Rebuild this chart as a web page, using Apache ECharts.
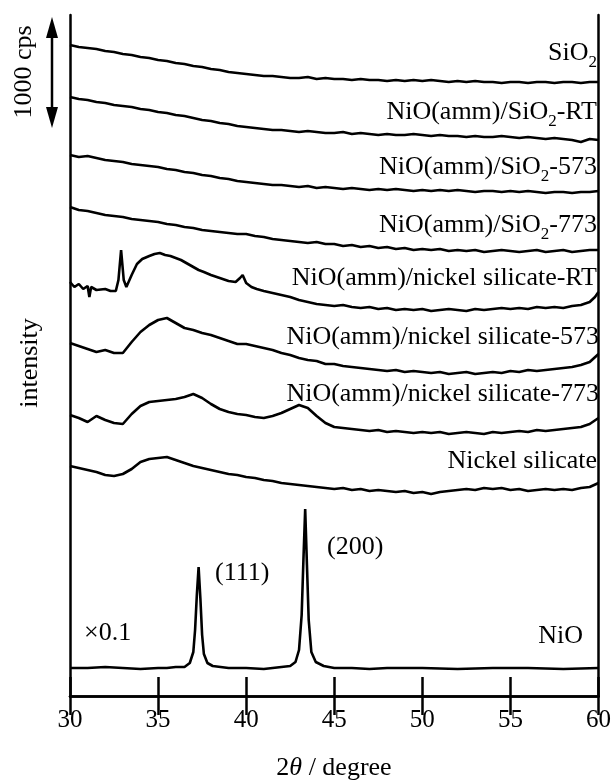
<!DOCTYPE html>
<html><head><meta charset="utf-8">
<script src="https://cdn.jsdelivr.net/npm/echarts@6/dist/echarts.min.js"></script>
<style>html,body{margin:0;padding:0;background:#fff}#c{width:614px;height:783px}</style>
</head><body><div id="c"></div>
<script>
// 2θ sampling grid (degree)
const twoTheta = [30,30.5,31,31.5,32,32.5,33,33.5,34,34.5,35,35.5,36,36.5,37,37.5,38,38.5,39,39.5,40,40.5,41,41.5,42,42.5,43,43.5,44,44.5,45,45.5,46,46.5,47,47.5,48,48.5,49,49.5,50,50.5,51,51.5,52,52.5,53,53.5,54,54.5,55,55.5,56,56.5,57,57.5,58,58.5,59,59.5,60];
// offset-stacked intensities (cps)
const siO2 = [5859,5841,5832,5823,5805,5796,5778,5769,5751,5742,5724,5715,5697,5688,5670,5661,5643,5634,5616,5607,5598,5589,5580,5580,5571,5562,5562,5571,5553,5562,5553,5553,5544,5553,5544,5544,5535,5544,5535,5544,5535,5544,5535,5526,5535,5526,5535,5526,5526,5517,5526,5526,5517,5526,5526,5517,5526,5526,5517,5526,5526];
const niOSiO2RT = [5391,5373,5364,5346,5337,5319,5310,5301,5283,5274,5256,5247,5229,5220,5202,5184,5175,5157,5148,5130,5121,5112,5103,5094,5094,5085,5076,5085,5076,5067,5067,5076,5058,5067,5058,5049,5058,5049,5049,5058,5049,5040,5049,5040,5040,5031,5040,5031,5031,5040,5031,5022,5031,5022,5013,5022,5013,5004,4986,5013,5004];
const niOSiO2573 = [4869,4851,4860,4842,4824,4815,4806,4788,4779,4770,4761,4743,4734,4716,4707,4689,4680,4662,4653,4635,4626,4617,4608,4599,4599,4590,4581,4590,4572,4581,4572,4563,4572,4563,4554,4563,4554,4563,4554,4545,4554,4545,4554,4545,4554,4545,4536,4545,4545,4536,4545,4536,4545,4536,4527,4536,4536,4527,4536,4536,4545];
const niOSiO2773 = [4401,4374,4365,4347,4329,4320,4311,4293,4284,4275,4266,4248,4239,4221,4212,4194,4185,4176,4167,4158,4158,4140,4131,4113,4104,4095,4086,4077,4086,4068,4068,4050,4059,4041,4050,4032,4041,4023,4032,4014,4023,4014,4023,4005,4014,4005,4014,3996,4005,4014,4005,3996,4005,4014,3996,4005,4014,3996,4005,4014,4014];
const niOSilicateRT_x = [30,30.25,30.5,30.75,31,31.1,31.2,31.5,32,32.3,32.6,32.75,32.9,33.05,33.2,33.5,33.8,34.1,34.5,34.8,35.1,35.4,35.7,36,36.3,36.6,37,37.3,37.6,38,38.5,39,39.4,39.65,39.8,40,40.3,40.6,41,41.5,42,42.5,43,43.5,44,44.5,45,45.5,46,46.5,47,47.5,48,48.5,49,49.5,50,50.5,51,51.5,52,52.5,53,53.5,54,54.5,55,55.5,56,56.5,57,57.5,58,58.5,59,59.5,59.8,60];
const niOSilicateRT = [3726,3681,3708,3663,3690,3591,3681,3654,3663,3645,3645,3744,4014,3744,3681,3789,3888,3933,3960,3978,3987,3969,3960,3942,3924,3897,3861,3834,3816,3789,3762,3735,3726,3762,3789,3717,3681,3663,3645,3627,3609,3591,3564,3546,3528,3519,3510,3519,3501,3492,3501,3483,3492,3474,3483,3474,3483,3465,3474,3483,3474,3465,3483,3474,3483,3492,3483,3492,3483,3501,3492,3501,3492,3510,3519,3546,3591,3636];
const niOSilicate573 = [3177,3150,3123,3096,3114,3087,3087,3186,3276,3339,3384,3402,3357,3312,3294,3267,3249,3222,3195,3168,3168,3150,3132,3114,3087,3069,3042,3024,3015,2988,2988,2970,2961,2952,2943,2934,2925,2934,2916,2925,2916,2907,2916,2898,2907,2916,2898,2907,2916,2907,2925,2916,2934,2925,2934,2943,2952,2961,2979,3006,3078];
const niOSilicate773 = [2529,2502,2466,2520,2484,2457,2448,2538,2610,2646,2655,2664,2673,2691,2718,2682,2628,2583,2556,2538,2529,2511,2502,2520,2547,2583,2619,2592,2520,2457,2421,2412,2403,2394,2385,2394,2376,2385,2376,2367,2376,2367,2376,2358,2367,2376,2367,2358,2376,2367,2376,2385,2376,2394,2385,2394,2403,2412,2421,2448,2502];
const nickelSilicate = [2070,2052,2034,2016,1989,1980,1998,2043,2106,2133,2142,2151,2124,2097,2070,2052,2034,2016,1998,1989,1971,1962,1944,1935,1917,1908,1899,1890,1881,1872,1863,1872,1854,1863,1845,1854,1845,1836,1845,1827,1836,1818,1836,1845,1854,1863,1854,1872,1863,1872,1854,1863,1845,1854,1863,1854,1863,1854,1872,1881,1917];
const niO_x = [30,31,32,33,34,35,35.5,36,36.5,36.8,37,37.1,37.2,37.3,37.4,37.5,37.6,37.8,38.1,39,40,41,42,42.5,42.8,43,43.15,43.25,43.35,43.45,43.55,43.7,43.95,44.4,45,46,47,48,50,52,54,56,58,60];
const niO = [252,252,261,252,243,252,252,261,261,297,396,594,909,1161,882,549,378,297,270,252,252,243,261,270,306,414,729,1224,1683,1179,684,396,306,270,252,252,243,252,252,243,252,252,243,252];
// axis
const xMin = 30, xMax = 60, xStep = 5;
const yMin = 0, yMax = 6129;
const scaleBarTop = 6111, scaleBarSpan = 1000;

const F = "'Liberation Serif','Times New Roman',serif";
const pair = (xs, ys) => xs.map((x, i) => [x, ys[i]]);
const seriesList = [
  pair(twoTheta, siO2), pair(twoTheta, niOSiO2RT), pair(twoTheta, niOSiO2573), pair(twoTheta, niOSiO2773),
  pair(niOSilicateRT_x, niOSilicateRT), pair(twoTheta, niOSilicate573), pair(twoTheta, niOSilicate773),
  pair(twoTheta, nickelSilicate), pair(niO_x, niO)
];

const chart = echarts.init(document.getElementById('c'), null, {renderer: 'canvas'});
const axisLine = {show: true, lineStyle: {color: '#000', width: 2.5}};
chart.setOption({
  animation: false,
  backgroundColor: '#fff',
  grid: {left: 70, right: 15, top: 15, bottom: 87, containLabel: false},
  xAxis: [
    {type: 'value', min: xMin, max: xMax, interval: xStep, position: 'bottom',
     axisLine, axisTick: {show: true, inside: true, length: 19, lineStyle: {color: '#000', width: 2.5}},
     axisLabel: {show: true, margin: 12, color: '#000', fontFamily: F, fontSize: 25},
     splitLine: {show: false}},
    {type: 'value', min: xMin, max: xMax, interval: xStep, position: 'top',
     axisLine, axisTick: {show: true, inside: true, length: 19, lineStyle: {color: '#000', width: 2.5}},
     axisLabel: {show: false}, splitLine: {show: false}}
  ],
  yAxis: [
    {type: 'value', min: yMin, max: yMax, position: 'left', axisLine,
     axisTick: {show: false}, axisLabel: {show: false}, splitLine: {show: false}},
    {type: 'value', min: yMin, max: yMax, position: 'right', axisLine,
     axisTick: {show: false}, axisLabel: {show: false}, splitLine: {show: false}}
  ],
  series: seriesList.map(d => ({
    type: 'line', data: d, showSymbol: false, symbol: 'none', smooth: false,
    xAxisIndex: 0, yAxisIndex: 0, clip: true,
    lineStyle: {color: '#000', width: 2.6}
  }))
});

const mctx = document.createElement('canvas').getContext('2d');
const FONTS = {n: '26px ' + F, s: '17px ' + F, i: 'italic 26px ' + F};
function tw(t, font) { mctx.font = font; return mctx.measureText(t).width; }
function composite(parts, x, yc, align) {
  const widths = parts.map(p => tw(p[0], FONTS[p[1]]));
  const total = widths.reduce((a, b) => a + b, 0);
  let left = align === 'right' ? x - total : (align === 'center' ? x - total / 2 : x);
  return parts.map((p, i) => {
    const el = {type: 'text', x: left, y: yc + (p[1] === 's' ? 10 : 0), z: 10,
      style: {text: p[0], font: FONTS[p[1]], fill: '#000', align: 'left', textAlign: 'left',
              verticalAlign: 'middle', textVerticalAlign: 'middle'}};
    left += widths[i];
    return el;
  });
}
function plainLabel(text, x, yc, align, rot) {
  return {type: 'text', x: x, y: yc, rotation: rot || 0, z: 10,
    style: {text: text, font: FONTS.n, fill: '#000', align: align, textAlign: align,
            verticalAlign: 'middle', textVerticalAlign: 'middle'}};
}
const px = chart.convertToPixel({yAxisIndex: 0}, scaleBarTop);
const pb = chart.convertToPixel({yAxisIndex: 0}, scaleBarTop - scaleBarSpan);
const ax = 52, hw = 6, hl = 21;
const g = [].concat(
  composite([['SiO', 'n'], ['2', 's']], 597, 53, 'right'),
  composite([['NiO(amm)/SiO', 'n'], ['2', 's'], ['-RT', 'n']], 597, 112, 'right'),
  composite([['NiO(amm)/SiO', 'n'], ['2', 's'], ['-573', 'n']], 597, 167, 'right'),
  composite([['NiO(amm)/SiO', 'n'], ['2', 's'], ['-773', 'n']], 597, 225, 'right'),
  [
    plainLabel('NiO(amm)/nickel silicate-RT', 597, 278, 'right'),
    plainLabel('NiO(amm)/nickel silicate-573', 599, 337, 'right'),
    plainLabel('NiO(amm)/nickel silicate-773', 599, 394, 'right'),
    plainLabel('Nickel silicate', 597, 461, 'right'),
    plainLabel('NiO', 583, 636, 'right'),
    plainLabel('\u00d70.1', 84, 633, 'left'),
    plainLabel('(111)', 215, 573, 'left'),
    plainLabel('(200)', 327, 547, 'left'),
    plainLabel('intensity', 30, 363, 'center', Math.PI / 2),
    plainLabel('1000 cps', 24, 72, 'center', Math.PI / 2)
  ],
  composite([['2', 'n'], ['\u03b8', 'i'], [' / degree', 'n']], 334, 768, 'center'),
  [
    {type: 'line', z: 10, shape: {x1: ax, y1: px + hl - 2, x2: ax, y2: pb - hl + 2}, style: {stroke: '#000', lineWidth: 2.5}},
    {type: 'polygon', z: 10, shape: {points: [[ax, px], [ax - hw, px + hl], [ax + hw, px + hl]]}, style: {fill: '#000'}},
    {type: 'polygon', z: 10, shape: {points: [[ax, pb], [ax - hw, pb - hl], [ax + hw, pb - hl]]}, style: {fill: '#000'}}
  ]
);
chart.setOption({graphic: g});
</script></body></html>
